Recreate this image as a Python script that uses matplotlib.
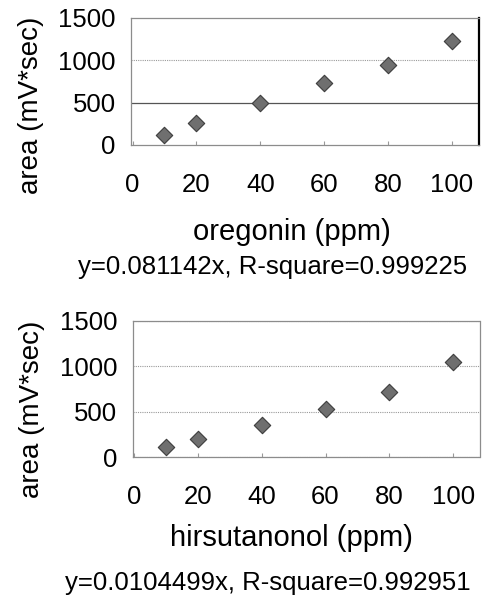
import matplotlib
matplotlib.use("Agg")
import matplotlib.pyplot as plt

plt.rcParams["font.family"] = ["Liberation Sans", "DejaVu Sans"]

# concentrations (ppm) and peak areas (mV*sec)
conc = [10, 20, 40, 60, 80, 100]
area_oregonin = [118, 263, 492, 729, 945, 1232]
area_hirsutanonol = [114, 202, 353, 526, 720, 1051]

x_ticks = [0, 20, 40, 60, 80, 100]
y_ticks = [0, 500, 1000, 1500]

panels = [
    ("oregonin (ppm)", "y=0.081142x, R-square=0.999225", area_oregonin),
    ("hirsutanonol (ppm)", "y=0.0104499x, R-square=0.992951", area_hirsutanonol),
]

fig = plt.figure(figsize=(4.86, 5.99), dpi=100)

boxes = [
    [0.2695, 0.758, 0.716, 0.212],
    [0.273, 0.2366, 0.715, 0.228],
]
ylabel_pos = [(0.064, 0.825), (0.066, 0.316)]
xlabel_y = [0.612, 0.102]
eq_pos = [(0.561, 0.554), (0.551, 0.027)]

for i, (xlab, eq, vals) in enumerate(panels):
    ax = fig.add_axes(boxes[i])
    ax.scatter(conc, vals, marker="D", s=70, color="#6f6f6f",
               edgecolors="#3c3c3c", linewidths=0.8, zorder=3)
    ax.set_xlim(-0.5, 108.5)
    ax.set_ylim(0, 1500)
    ax.set_xticks(x_ticks)
    ax.set_yticks(y_ticks)
    ax.tick_params(axis="x", direction="in", length=3, color="#999999",
                   labelsize=18.5, pad=20)
    ax.tick_params(axis="y", length=0, labelsize=18.5, pad=11)
    for s in ax.spines.values():
        s.set_color("#8c8c8c")
        s.set_linewidth(0.9)
        s.set_linestyle((0, (1, 1)))
    ax.spines["left"].set_linestyle("-")
    if i == 0:
        ax.spines["right"].set_linestyle("-")
        ax.spines["right"].set_color("black")
        ax.spines["right"].set_linewidth(1.6)
        ax.axhline(500, color="#555555", lw=0.9, zorder=1)
        ax.axhline(1000, color="#9a9a9a", lw=0.8, ls=(0, (1, 1)), zorder=1)
    else:
        ax.yaxis.grid(True, color="#9a9a9a", lw=0.8, ls=(0, (1, 1)))
        ax.set_axisbelow(True)

    fig.text(ylabel_pos[i][0], ylabel_pos[i][1], "area (mV*sec)",
             rotation=90, ha="center", va="center", fontsize=20)
    fig.text(0.6, xlabel_y[i], xlab, ha="center", va="center", fontsize=21)
    fig.text(eq_pos[i][0], eq_pos[i][1], eq, ha="center", va="center",
             fontsize=18.5)

fig.savefig("out.png", dpi=100)
